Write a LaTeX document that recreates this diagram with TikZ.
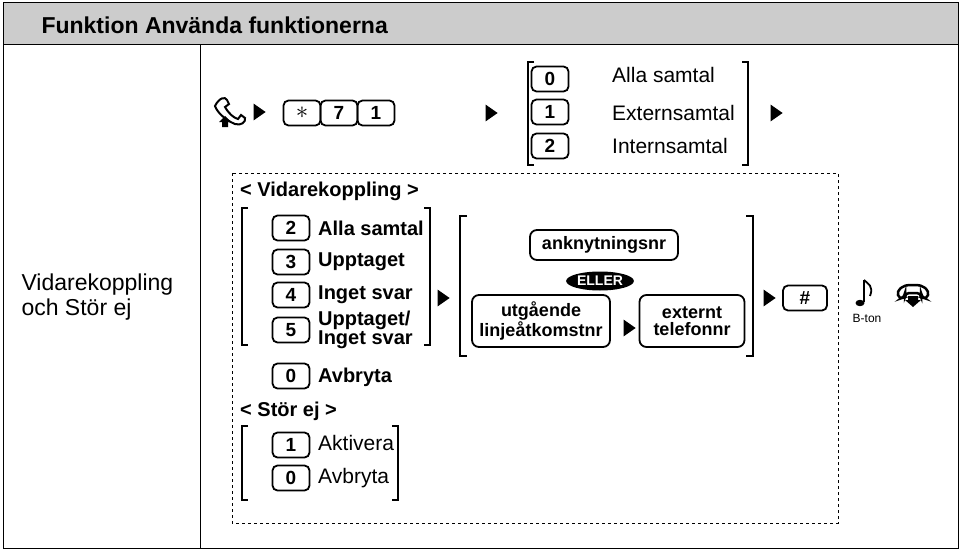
\documentclass[tikz,border=0pt]{standalone}
\usepackage{fontspec}
\setmainfont{Liberation Sans}
\usetikzlibrary{shapes.geometric}
\begin{document}
\begin{tikzpicture}[x=1pt,y=-1pt,
 key/.style={draw,line width=1.8pt,rounded corners=5pt,minimum width=37pt,minimum height=25pt,inner sep=1pt,font=\fontsize{19}{19}\selectfont\bfseries},
 box/.style={draw,line width=1.8pt,rounded corners=7pt,inner sep=3pt,align=center,font=\fontsize{18}{17}\selectfont\bfseries},
 lbl/.style={anchor=west,inner sep=0pt,font=\fontsize{21}{21}\selectfont},
 blbl/.style={anchor=west,inner sep=0pt,align=left,font=\fontsize{20}{17}\selectfont\bfseries},
 tri/.style={fill,isosceles triangle,isosceles triangle apex angle=70,minimum width=13pt,minimum height=12pt,inner sep=0pt},
 brk/.style={line width=1.2pt}]
\useasboundingbox (0,0) rectangle (962,551);
% table
\fill[gray!40] (3,3) rectangle (958,45);
\draw[line width=1pt] (3,3) rectangle (958,548);
\draw[line width=1pt] (3,45) -- (958,45);
\draw[line width=1pt] (200,45) -- (200,548);
\node[anchor=west,font=\fontsize{23}{23}\selectfont\bfseries] (hd) at (38,25) {Funktion Använda funktionerna};
\node[anchor=west,align=left,font=\fontsize{23}{25}\selectfont] (vid) at (18,297) {Vidarekoppling\\och Stör ej};
% handset up icon
\begin{scope}[shift={(231,110)}]
\draw[line width=2pt,fill=white] (-16,-4) .. controls (-12,-12) and (-6,-14) .. (-4,-10) -- (-2,-6) -- (-6,-3) .. controls (-2,4) and (3,8) .. (7,9) -- (10,5) -- (14,8) .. controls (15,12) and (10,16) .. (4,14) .. controls (-6,10) and (-14,2) .. (-16,-4) -- cycle;
\fill (-12,12) -- (-6,6) -- (0,12) -- (-3,12) -- (-3,17) -- (-9,17) -- (-9,12) -- cycle;
\end{scope}
\node[tri] (a1) at (258,112) {};
\node[key] (ks) at (302,113) {\Huge$\ast$};
\node[key] (k7) at (339,113) {7};
\node[key] (k1) at (376,113) {1};
\node[tri] (a2) at (490,113) {};
\draw[brk] (534,62) -- (528,62) -- (528,165) -- (534,165);
\draw[brk] (742,62) -- (748,62) -- (748,165) -- (742,165);
\node[key] (t0) at (550,79) {0};
\node[key] (t1) at (550,112) {1};
\node[key] (t2) at (550,146) {2};
\node[lbl] (l0) at (612,75) {Alla samtal};
\node[lbl] (l1) at (612,113) {Externsamtal};
\node[lbl] (l2) at (612,146) {Internsamtal};
\node[tri] (a3) at (775,113) {};
% dashed box
\draw[dashed,line width=0.8pt] (232,173) rectangle (838,523);
\node[blbl] (vk) at (240,191) {< Vidarekoppling >};
\draw[brk] (248,208) -- (242,208) -- (242,345) -- (248,345);
\draw[brk] (424,208) -- (430,208) -- (430,345) -- (424,345);
\node[key] (v2) at (291,228) {2};
\node[key] (v3) at (291,262) {3};
\node[key] (v4) at (291,295) {4};
\node[key] (v5) at (291,330) {5};
\node[blbl] (b2) at (318,228) {Alla samtal};
\node[blbl] (b3) at (318,262) {Upptaget};
\node[blbl] (b4) at (318,295) {Inget svar};
\node[blbl] (b5) at (318,330) {Upptaget/\\Inget svar};
\node[tri] (a4) at (442,298) {};
\draw[brk] (467,216) -- (460,216) -- (460,356) -- (467,356);
\draw[brk] (746,216) -- (753,216) -- (753,356) -- (746,356);
\node[box,minimum width=148pt,minimum height=30pt] (ank) at (604,245) {anknytningsnr};
\node[ellipse,fill,inner sep=1pt,minimum width=64pt,minimum height=19pt,text=white,font=\fontsize{14}{14}\selectfont\bfseries] (el) at (600,281) {ELLER};
\node[box,minimum width=138pt,minimum height=52pt] (utg) at (541,321) {utgående\\linjeåtkomstnr};
\node[tri] (a5) at (628,328) {};
\node[box,minimum width=105pt,minimum height=52pt] (ext) at (692,321) {externt\\telefonnr};
\node[tri] (a6) at (768,298) {};
\node[key,minimum width=44pt] (kh) at (805,298) {\#};
% note
\coordinate (note) at (862,290);
\draw[line width=1.5pt] (864,280) -- (864,302);
\fill (860,303) ellipse (4.5pt and 3.2pt);
\draw[line width=1.8pt] (864,280) .. controls (868,284) and (874,286) .. (870,296);
\node[font=\fontsize{12}{12}\selectfont] (bt) at (867,318) {B-ton};
% handset down
\begin{scope}[shift={(913,293)}]
\draw[line width=2.5pt,fill=white,rounded corners=4pt] (-14,6) -- (-16,-2) -- (-8,-8) -- (8,-8) -- (16,-2) -- (14,6) -- (8,4) -- (8,0) -- (-8,0) -- (-8,4) -- cycle;
\fill (-5,3) -- (5,3) -- (5,7) -- (8,7) -- (0,14) -- (-8,7) -- (-5,7) -- cycle;
\end{scope}
\node[key] (v0) at (291,376) {0};
\node[blbl] (b0) at (318,377) {Avbryta};
\node[blbl] (se) at (240,411) {< Stör ej >};
\draw[brk] (248,426) -- (242,426) -- (242,500) -- (248,500);
\draw[brk] (392,426) -- (398,426) -- (398,500) -- (392,500);
\node[key] (s1) at (291,445) {1};
\node[key] (s0) at (291,478) {0};
\node[lbl] (sl1) at (318,443) {Aktivera};
\node[lbl] (sl0) at (318,478) {Avbryta};
\end{tikzpicture}
\end{document}
